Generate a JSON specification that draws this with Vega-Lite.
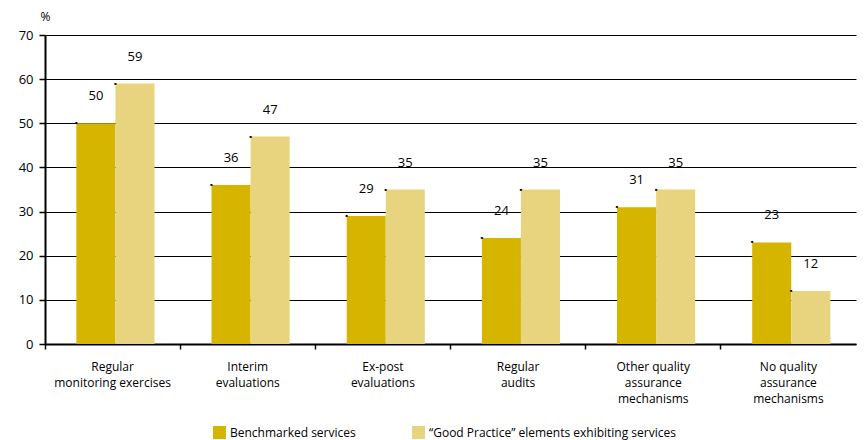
{
  "$schema": "https://vega.github.io/schema/vega-lite/v6.json",
  "width": 811,
  "height": 309,
  "autosize": {"type": "none"},
  "padding": {"left": 45, "top": 35, "right": 9, "bottom": 96},
  "config": {
    "font": "Open Sans",
    "view": {"stroke": null},
    "axis": {"labelColor": "black", "labelFontSize": 12, "domainColor": "black", "tickColor": "black"}
  },
  "data": {
    "values": [
      {"category": "Regular|monitoring exercises", "series": "Benchmarked services", "value": 50},
      {"category": "Regular|monitoring exercises", "series": "“Good Practice” elements exhibiting services", "value": 59},
      {"category": "Interim|evaluations", "series": "Benchmarked services", "value": 36},
      {"category": "Interim|evaluations", "series": "“Good Practice” elements exhibiting services", "value": 47},
      {"category": "Ex-post|evaluations", "series": "Benchmarked services", "value": 29},
      {"category": "Ex-post|evaluations", "series": "“Good Practice” elements exhibiting services", "value": 35},
      {"category": "Regular|audits", "series": "Benchmarked services", "value": 24},
      {"category": "Regular|audits", "series": "“Good Practice” elements exhibiting services", "value": 35},
      {"category": "Other quality|assurance|mechanisms", "series": "Benchmarked services", "value": 31},
      {"category": "Other quality|assurance|mechanisms", "series": "“Good Practice” elements exhibiting services", "value": 35},
      {"category": "No quality|assurance|mechanisms", "series": "Benchmarked services", "value": 23},
      {"category": "No quality|assurance|mechanisms", "series": "“Good Practice” elements exhibiting services", "value": 12}
    ]
  },
  "encoding": {
    "x": {
      "field": "category", "type": "nominal", "sort": null,
      "scale": {"paddingInner": 0, "paddingOuter": 0},
      "axis": {
        "title": null, "labelAngle": 0, "grid": false, "bandPosition": 0,
        "tickSize": 5, "tickWidth": 1.5, "domainWidth": 2, "labelPadding": 12,
        "labelLineHeight": 16, "labelBaseline": "top",
        "labelExpr": "split(datum.label, '|')"
      }
    },
    "xOffset": {
      "field": "series", "type": "nominal",
      "sort": ["Benchmarked services", "“Good Practice” elements exhibiting services"],
      "scale": {"paddingInner": 0, "paddingOuter": 0.73, "align": 0.55}
    },
    "y": {
      "field": "value", "type": "quantitative",
      "scale": {"domain": [0, 70]},
      "axis": {
        "title": "%", "titleAngle": 0, "titleX": 0, "titleY": -12, "titleAlign": "center",
        "titleFontWeight": "normal", "titleFontSize": 12, "titleBaseline": "bottom",
        "values": [0, 10, 20, 30, 40, 50, 60, 70],
        "grid": true, "gridColor": "black", "gridWidth": 1, "gridOpacity": 1,
        "domainWidth": 2, "tickSize": 6, "tickWidth": 1.5, "labelPadding": 6, "labelFontSize": 13
      }
    }
  },
  "layer": [
    {
      "mark": {"type": "bar"},
      "encoding": {
        "color": {
          "field": "series", "type": "nominal",
          "scale": {
            "domain": ["Benchmarked services", "“Good Practice” elements exhibiting services"],
            "range": ["#D5B500", "#E8D47F"]
          },
          "legend": {
            "orient": "none", "legendX": 168, "legendY": 391, "direction": "horizontal",
            "title": null, "symbolType": "square", "symbolSize": 169, "symbolStrokeWidth": 0,
            "symbolOpacity": 1, "labelFontSize": 12, "labelColor": "black", "columnPadding": 56,
            "labelLimit": 400
          }
        }
      }
    },
    {
      "mark": {"type": "text", "dy": -20, "fontSize": 13, "color": "black", "baseline": "bottom"},
      "encoding": {"text": {"field": "value", "type": "quantitative"}}
    },
    {
      "mark": {"type": "text", "text": "■", "fontSize": 4, "dx": -19.5, "color": "black", "baseline": "middle"},
      "encoding": {}
    }
  ]
}
